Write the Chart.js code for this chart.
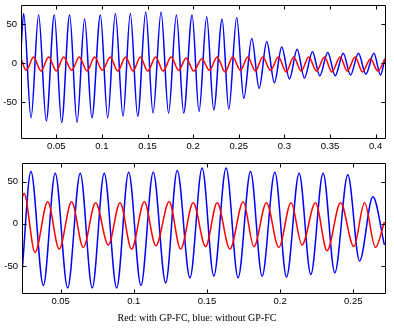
<!DOCTYPE html>
<html>
<head>
<meta charset="utf-8">
<script src="https://cdn.jsdelivr.net/npm/chart.js@4.4.0/dist/chart.umd.min.js"></script>
<style>
  body { margin: 0; background: #fff; }
  #wrap { position: relative; width: 394px; height: 329px; }
  canvas { position: absolute; left: 0; }
  #caption { position: absolute; left: 0; top: 312px; width: 394px; text-align: center;
             font: 10px "Liberation Serif", "Times New Roman", serif; color: #000; }
</style>
</head>
<body>
<div id="wrap">
  <canvas id="topChart" width="394" height="160" style="top:0px"></canvas>
  <canvas id="bottomChart" width="394" height="160" style="top:158px"></canvas>
  <div id="caption">Red: with GP-FC, blue: without GP-FC</div>
</div>
<script>
// tick labels
var topXTicks = [0.05, 0.1, 0.15, 0.2, 0.25, 0.3, 0.35, 0.4];
var bottomXTicks = [0.05, 0.1, 0.15, 0.2, 0.25];
var yTicks = [-50, 0, 50];

// top plot, blue (without GP-FC): peaks and troughs
var topBlueT = [0.0113, 0.0142, 0.0223, 0.0306, 0.0390, 0.0478, 0.0558, 0.0646, 0.0727, 0.0810,
                0.0890, 0.0983, 0.1063, 0.1147, 0.1231, 0.1311, 0.1392, 0.1480, 0.1560, 0.1648,
                0.1730, 0.1816, 0.1896, 0.1988, 0.2064, 0.2148, 0.2225, 0.2317, 0.2390, 0.2477,
                0.2554, 0.2642, 0.2723, 0.2806, 0.2890, 0.2970, 0.3055, 0.3139, 0.3219, 0.3307,
                0.3387, 0.3475, 0.3556, 0.3644, 0.3724, 0.3811, 0.3892, 0.3980, 0.4053, 0.4100];
var topBlueV = [18, 64, -70, 62, -74, 62, -76, 62, -76, 57,
                -70, 62, -70, 64, -68, 64, -68, 66, -64, 66,
                -64, 62, -64, 62, -62, 60, -60, 57, -59, 59,
                -45, 32, -32, 28, -25, 21, -20, 18, -19, 15,
                -16, 14, -16, 13, -15, 13, -14, 13, -15, 6];

// top plot, red (with GP-FC)
var topRedT = [0.0113, 0.0171, 0.0251, 0.0332, 0.0416, 0.0500, 0.0580, 0.0668, 0.0752, 0.0837,
               0.0920, 0.1004, 0.1092, 0.1172, 0.1260, 0.1341, 0.1421, 0.1501, 0.1589, 0.1670,
               0.1758, 0.1841, 0.1922, 0.2006, 0.2094, 0.2178, 0.2262, 0.2350, 0.2433, 0.2518,
               0.2598, 0.2682, 0.2762, 0.2847, 0.2934, 0.3019, 0.3102, 0.3183, 0.3267, 0.3351,
               0.3439, 0.3519, 0.3611, 0.3688, 0.3775, 0.3855, 0.3943, 0.4023, 0.4104];
var topRedV = [6, -9, 8, -10, 8, -10, 8, -9, 8, -10,
               8, -9, 8, -10, 8, -10, 8, -10, 8, -10,
               8, -9, 7, -10, 6, -9, 8, -11, 8, -9,
               8, -10, 8, -9, 8, -11, 8, -10, 8, -10,
               8, -11, 8, -10, 8, -11, 6, -10, 6];

// bottom plot, blue (without GP-FC)
var bottomBlueT = [0.0236, 0.0297, 0.0382, 0.0463, 0.0548, 0.0634, 0.0716, 0.0798, 0.0883, 0.0965,
                   0.1049, 0.1133, 0.1218, 0.1297, 0.1384, 0.1467, 0.1547, 0.1631, 0.1713, 0.1798,
                   0.1877, 0.1964, 0.2044, 0.2130, 0.2210, 0.2294, 0.2374, 0.2463, 0.2543, 0.2634,
                   0.2713];
var bottomBlueV = [-58, 62, -73, 60, -76, 60, -76, 60, -76, 61,
                   -73, 61, -70, 63, -64, 66, -62, 66, -64, 62,
                   -62, 61, -63, 60, -60, 60, -58, 58, -44, 32,
                   -25];

// bottom plot, red (with GP-FC)
var bottomRedT = [0.0236, 0.0250, 0.0325, 0.0412, 0.0490, 0.0575, 0.0655, 0.0739, 0.0826, 0.0906,
                  0.0985, 0.1072, 0.1151, 0.1242, 0.1320, 0.1406, 0.1491, 0.1570, 0.1657, 0.1748,
                  0.1821, 0.1907, 0.1991, 0.2075, 0.2150, 0.2242, 0.2321, 0.2413, 0.2504, 0.2577,
                  0.2652, 0.2713];
var bottomRedV = [30, 36, -34, 26, -30, 26, -28, 25, -25, 25,
                  -30, 26, -26, 26, -30, 25, -27, 25, -30, 26,
                  -27, 25, -28, 25, -25, 25, -32, 25, -27, 25,
                  -28, 2];

function pts(t, v) {
  return t.map(function(x, i) { return { x: x, y: v[i] }; });
}

// matlab style box with inward ticks on all four sides
var boxTicks = {
  id: 'boxTicks',
  afterDraw: function(chart) {
    var c = chart.ctx, a = chart.chartArea;
    var xs = chart.scales.x, ys = chart.scales.y;
    var L = Math.round(a.left) + 0.5, R = Math.round(a.right) + 0.5;
    var T = Math.round(a.top) + 0.5, B = Math.round(a.bottom) + 0.5;
    c.save();
    c.strokeStyle = '#000';
    c.lineWidth = 1;
    c.beginPath();
    c.rect(L, T, R - L, B - T);
    xs.ticks.forEach(function(t) {
      var px = Math.round(xs.getPixelForValue(t.value)) + 0.5;
      c.moveTo(px, B); c.lineTo(px, B - 4);
      c.moveTo(px, T); c.lineTo(px, T + 4);
    });
    ys.ticks.forEach(function(t) {
      var py = Math.round(ys.getPixelForValue(t.value)) + 0.5;
      c.moveTo(L, py); c.lineTo(L + 4, py);
      c.moveTo(R, py); c.lineTo(R - 4, py);
    });
    c.stroke();
    c.restore();
  }
};

function makeChart(id, blue, red, xr, yr, xTicks, lay) {
  return new Chart(document.getElementById(id), {
    type: 'line',
    data: {
      datasets: [
        { data: red, borderColor: 'rgb(255,0,0)' },
        { data: blue, borderColor: 'rgb(0,0,255)' }
      ]
    },
    options: {
      responsive: false,
      animation: false,
      layout: { padding: { left: 0, top: lay.top, right: lay.right, bottom: 0 } },
      plugins: { legend: { display: false }, tooltip: { enabled: false } },
      elements: {
        point: { radius: 0 },
        line: { borderWidth: 1.5, cubicInterpolationMode: 'monotone', fill: false }
      },
      scales: {
        x: {
          type: 'linear', min: xr[0], max: xr[1],
          grid: { display: false, drawTicks: false },
          border: { display: false },
          afterBuildTicks: function(s) { s.ticks = xTicks.map(function(v) { return { value: v }; }); },
          afterFit: function(s) { s.height = lay.xh; s.paddingLeft = 0; s.paddingRight = 0; },
          ticks: {
            color: '#000', padding: 3, maxRotation: 0, autoSkip: false,
            font: { family: 'Liberation Sans', size: 9.5 },
            callback: function(v) { return String(v); }
          }
        },
        y: {
          type: 'linear', min: yr[0], max: yr[1],
          grid: { display: false, drawTicks: false },
          border: { display: false },
          afterBuildTicks: function(s) { s.ticks = yTicks.map(function(v) { return { value: v }; }); },
          afterFit: function(s) { s.width = lay.yw; s.paddingTop = 0; s.paddingBottom = 0; },
          ticks: {
            color: '#000', padding: 4,
            font: { family: 'Liberation Sans', size: 9.5 },
            callback: function(v) { return String(v); }
          }
        }
      }
    },
    plugins: [boxTicks]
  });
}

makeChart('topChart', pts(topBlueT, topBlueV), pts(topRedT, topRedV),
  [0.0113, 0.4102], [-96, 75], topXTicks, { top: 5, right: 9, xh: 22, yw: 21 });
makeChart('bottomChart', pts(bottomBlueT, bottomBlueV), pts(bottomRedT, bottomRedV),
  [0.0236, 0.2717], [-82, 72], bottomXTicks, { top: 5, right: 9, xh: 25, yw: 22 });
</script>
</body>
</html>
